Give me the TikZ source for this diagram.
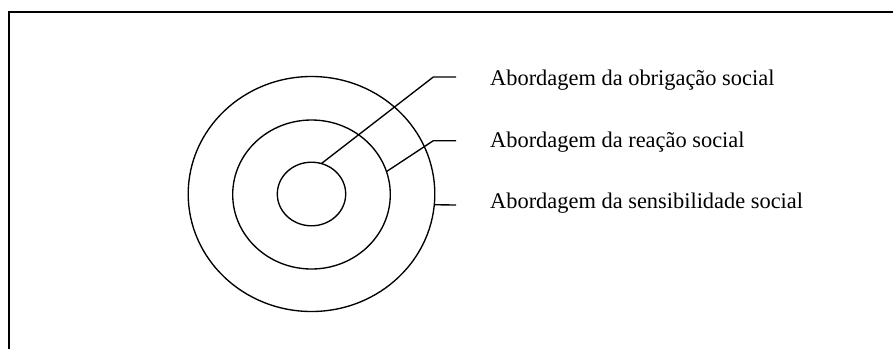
\documentclass[tikz,border=0pt]{standalone}
\usepackage{fontspec}
\setmainfont{Liberation Serif}
\usetikzlibrary{shapes.geometric}
\begin{document}
\begin{tikzpicture}[x=1pt,y=-1pt,
  ring/.style={draw, ellipse, line width=1.35pt, inner sep=0pt, outer sep=0pt},
  lead/.style={draw, line width=1.35pt},
  lab/.style={anchor=base west, inner sep=0pt, font=\fontsize{22.4}{26}\selectfont},
  frame/.style={draw, line width=1.5pt}]
\useasboundingbox (0,0) rectangle (893,349);
% frame (top and left sides)
\coordinate (ftl) at (9,12);
\coordinate (ftr) at (893,12);
\coordinate (fbl) at (9,349);
\draw[frame] (fbl) -- (ftl) -- (ftr);
% rings
\node[ring, minimum width=246.6pt, minimum height=235pt] (outer) at (311.5,194) {};
\node[ring, minimum width=157.6pt, minimum height=149pt] (middle) at (311.5,194.5) {};
\node[ring, minimum width=68.4pt, minimum height=63.6pt] (inner) at (311.5,194) {};
% labels
\node[lab] (l1) at (490,85) {Abordagem da obrigação social};
\node[lab] (l2) at (490,147.5) {Abordagem da reação social};
\node[lab] (l3) at (490,208.5) {Abordagem da sensibilidade social};
% leader corners and ends
\coordinate (k1) at (433.3,77);
\coordinate (e1) at (456,77);
\coordinate (k2) at (433.3,140.7);
\coordinate (e2) at (456,140.7);
\coordinate (e3) at (456,205);
\draw[lead] (inner.72) -- (k1) -- (e1);
\draw[lead] (middle.17.5) -- (k2) -- (e2);
\draw[lead] (outer.-5.2) -- (e3);
\end{tikzpicture}
\end{document}
